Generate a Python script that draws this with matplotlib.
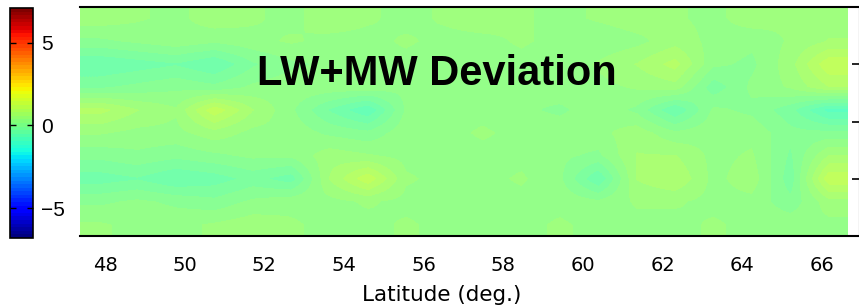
import numpy as np
import matplotlib
matplotlib.use("Agg")
import matplotlib.pyplot as plt
import matplotlib.colors as mcolors
import matplotlib.cm as mcm

# ---- data ----
lat_min, lat_max = 47.37, 66.63
x_ticks = [48, 50, 52, 54, 56, 58, 60, 62, 64, 66]
cbar_ticks = [-5, 0, 5]
clim = (-6.8, 7.1)

row_0 = [0.5, 0.4, 0.3, 0.5, 0.4, 0.3, 0.5, 0.4, 0.3, 0.4, 0.5, 0.4, 0.3, 0.4, 0.5, 0.4, 0.3, 0.5, 0.4, 0.5]
row_1 = [0.1, 0.2, 0.3, 0.2, 0.3, 0.4, 0.3, 0.3, 0.4, 0.3, 0.3, 0.4, 0.3, 0.2, 0.3, 0.5, 0.3, 0.2, 0.4, 0.6]
row_2 = [-0.5, -0.4, -0.3, -0.5, -0.1, 0.1, 0.2, 0.3, 0.3, 0.2, 0.3, 0.3, 0.2, 0.4, 0.6, 0.9, 0.2, 0.1, 0.5, 1.2]
row_3 = [-0.1, 0.0, 0.1, 0.0, 0.2, 0.3, 0.3, 0.3, 0.2, 0.3, 0.3, 0.2, 0.3, 0.3, 0.4, 0.5, -0.2, 0.2, 0.4, 0.8]
row_4 = [0.9, 0.6, 0.4, 1.2, 0.6, 0.2, -0.3, -0.7, 0.2, 0.3, 0.3, 0.2, 0.1, 0.3, 0.1, -0.5, 0.2, 0.1, -0.2, -0.8]
row_5 = [0.4, 0.3, 0.3, 0.5, 0.3, 0.3, 0.1, 0.0, 0.3, 0.3, 0.4, 0.3, 0.3, 0.3, 0.5, 0.2, 0.3, 0.3, 0.0, 0.0]
row_6 = [0.0, 0.1, 0.0, 0.1, 0.2, 0.2, 0.5, 0.4, 0.3, 0.3, 0.3, 0.3, 0.2, 0.1, 0.6, 0.6, 0.3, 0.4, -0.1, 0.6]
row_7 = [-0.4, -0.3, -0.5, -0.4, -0.2, -0.4, 0.6, 1.2, 0.4, 0.3, 0.3, 0.4, 0.2, -0.5, 0.6, 0.8, 0.3, 0.5, -0.2, 1.2]
row_8 = [0.1, 0.2, 0.1, 0.0, 0.2, 0.3, 0.3, 0.4, 0.3, 0.3, 0.3, 0.3, 0.3, 0.2, 0.4, 0.4, 0.3, 0.3, 0.0, 0.5]
row_9 = [0.4, 0.3, 0.3, 0.4, 0.5, 0.4, 0.3, 0.3, 0.4, 0.3, 0.3, 0.3, 0.4, 0.3, 0.3, 0.3, 0.4, 0.3, 0.3, 0.3]

grid = np.array([row_0, row_1, row_2, row_3, row_4, row_5, row_6, row_7, row_8, row_9])

# ---- figure ----
W, H = 859, 307
fig = plt.figure(figsize=(W / 100, H / 100), dpi=100)
plt.rcParams['font.family'] = ['Liberation Sans', 'DejaVu Sans']

def px_rect(x0, y0, x1, y1):
    return [x0 / W, 1 - y1 / H, (x1 - x0) / W, (y1 - y0) / H]

ax = fig.add_axes(px_rect(80, 7, 860, 236))
cmap = plt.get_cmap('jet', 64)
norm = mcolors.Normalize(vmin=clim[0], vmax=clim[1])
im = ax.imshow(grid, cmap=cmap, norm=norm, aspect='auto',
               interpolation='bilinear', origin='upper',
               extent=[lat_min, lat_max, 0, 4], zorder=1, alpha=0.85)
ax.set_axisbelow(True)
ax.set_xlim(lat_min, lat_min + 780 / 39.83)
ax.set_ylim(0, 4)
ax.set_xticks(x_ticks)
ax.set_xticklabels([str(t) for t in x_ticks], fontsize=14, family='DejaVu Sans')
ax.set_yticks([0, 1, 2, 3, 4])
ax.tick_params(axis='y', left=False, right=True, labelleft=False, labelright=False,
               direction='in', length=6, width=1.2, color='black')
ax.tick_params(axis='x', bottom=False, top=False, pad=11)
for s in ['top', 'bottom', 'right']:
    ax.spines[s].set_linewidth(1.5)
ax.spines['left'].set_visible(False)

fig.text(436.5 / W, 1 - 85 / H, "LW+MW Deviation", fontsize=30, fontweight='bold',
         ha='center', va='baseline', color='black')
fig.text(442 / W, 1 - 285 / H, "Latitude (deg.)", fontsize=15.5, ha='center', va='top',
         family='DejaVu Sans')

cax = fig.add_axes(px_rect(10, 8, 33, 238))
sm = mcm.ScalarMappable(norm=norm, cmap=cmap)
cb = fig.colorbar(sm, cax=cax)
cb.set_ticks(cbar_ticks)
cb.set_ticklabels(["\u22125" if t < 0 else str(t) for t in cbar_ticks])
cax.tick_params(direction='in', length=4, width=1, left=True, right=True,
                labelsize=15, pad=6)
cb.outline.set_linewidth(1.2)

fig.savefig("out.png", dpi=100)
